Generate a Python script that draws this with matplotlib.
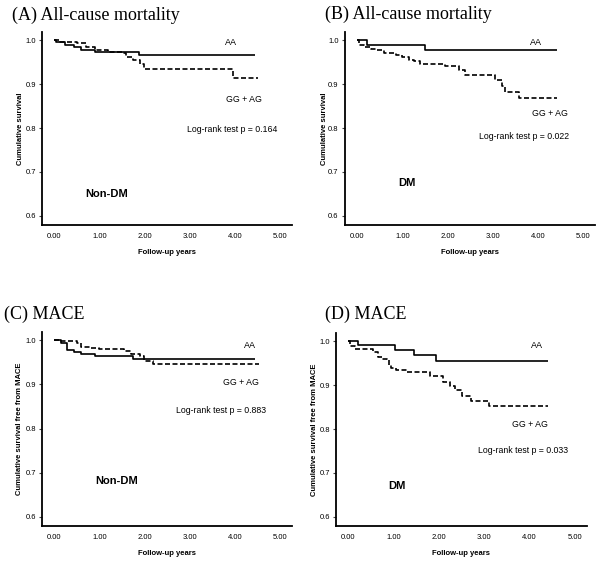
import matplotlib
matplotlib.use("Agg")
import matplotlib.pyplot as plt

# ---- data ----
# Panel A: All-cause mortality, Non-DM
a_aa_t = [0.0, 0.05, 0.25, 0.45, 0.6, 0.9, 1.88]
a_aa_s = [1.0, 0.996, 0.990, 0.985, 0.978, 0.973, 0.966]
a_aa_end = 4.45
a_gg_t = [0.0, 0.1, 0.5, 0.7, 0.9, 1.2, 1.5, 1.6, 1.75, 1.9, 2.0, 3.97]
a_gg_s = [1.0, 0.997, 0.993, 0.985, 0.978, 0.973, 0.970, 0.963, 0.955, 0.945, 0.935, 0.913]
a_gg_end = 4.52

# Panel B: All-cause mortality, DM
b_aa_t = [0.0, 0.22, 1.5]
b_aa_s = [1.0, 0.990, 0.979]
b_aa_end = 4.42
b_gg_t = [0.0, 0.05, 0.15, 0.3, 0.45, 0.6, 0.85, 1.0, 1.15, 1.25, 1.4, 1.95, 2.25, 2.4, 3.05, 3.2, 3.27, 3.58]
b_gg_s = [1.0, 0.990, 0.985, 0.981, 0.977, 0.970, 0.966, 0.962, 0.956, 0.952, 0.947, 0.941, 0.932, 0.922, 0.909, 0.896, 0.882, 0.868]
b_gg_end = 4.42

# Panel C: MACE, Non-DM
c_aa_t = [0.0, 0.15, 0.28, 0.45, 0.6, 0.9, 1.75]
c_aa_s = [1.0, 0.995, 0.978, 0.973, 0.969, 0.964, 0.957]
c_aa_end = 4.46
c_gg_t = [0.0, 0.1, 0.5, 0.6, 0.8, 1.0, 1.55, 1.7, 1.9, 2.0, 2.2]
c_gg_s = [1.0, 0.998, 0.993, 0.985, 0.982, 0.980, 0.975, 0.970, 0.965, 0.954, 0.946]
c_gg_end = 4.53

# Panel D: MACE, DM
d_aa_t = [0.0, 0.22, 1.03, 1.45, 1.93]
d_aa_s = [1.0, 0.991, 0.980, 0.969, 0.956]
d_aa_end = 4.42
d_gg_t = [0.0, 0.05, 0.15, 0.55, 0.65, 0.75, 0.85, 0.9, 0.95, 1.05, 1.3, 1.8, 2.1, 2.25, 2.35, 2.5, 2.7, 3.1]
d_gg_s = [1.0, 0.990, 0.983, 0.975, 0.965, 0.960, 0.957, 0.945, 0.939, 0.934, 0.930, 0.921, 0.908, 0.898, 0.888, 0.876, 0.865, 0.852]
d_gg_end = 4.42

x_ticks = [0, 1, 2, 3, 4, 5]
x_ticklabels = ["0.00", "1.00", "2.00", "3.00", "4.00", "5.00"]
y_ticks = [0.6, 0.7, 0.8, 0.9, 1.0]
y_ticklabels = ["0.6", "0.7", "0.8", "0.9", "1.0"]

titles = ["(A) All-cause mortality", "(B) All-cause mortality", "(C) MACE", "(D) MACE"]
ylabels = ["Cumulative survival", "Cumulative survival",
           "Cumulative survival free from MACE", "Cumulative survival free from MACE"]
xlabel = "Follow-up years"
groups = ["Non-DM", "DM", "Non-DM", "DM"]
pvals = ["Log-rank test p = 0.164", "Log-rank test p = 0.022",
         "Log-rank test p = 0.883", "Log-rank test p = 0.033"]

panels = [
    (a_aa_t, a_aa_s, a_aa_end, a_gg_t, a_gg_s, a_gg_end),
    (b_aa_t, b_aa_s, b_aa_end, b_gg_t, b_gg_s, b_gg_end),
    (c_aa_t, c_aa_s, c_aa_end, c_gg_t, c_gg_s, c_gg_end),
    (d_aa_t, d_aa_s, d_aa_end, d_gg_t, d_gg_s, d_gg_end),
]

# ---- layout ----
W, H = 600, 566
fig = plt.figure(figsize=(W / 100, H / 100), dpi=100)
fig.patch.set_facecolor("white")

# (left, right, top, bottom) in pixels
boxes = [(42, 292, 32, 225), (345, 595, 32, 225), (42, 292, 332, 526), (336, 587, 333, 526)]
title_pos = [(12, 20), (325, 19), (4, 319), (325, 319)]
# annotation positions (data coords): AA, GG+AG, logrank, group
ann = [
    ((3.91, 0.994), (4.2, 0.864), (3.95, 0.797), (1.17, 0.650)),
    ((3.97, 0.995), (4.28, 0.834), (3.70, 0.780), (1.10, 0.675)),
    ((4.33, 0.989), (4.13, 0.905), (3.69, 0.840), (1.38, 0.680)),
    ((4.17, 0.990), (4.00, 0.810), (3.86, 0.750), (1.07, 0.670)),
]
ylab_x = [21, 324, 20, 315]

sans = "Liberation Sans"
serif = "Liberation Serif"

for i, (l, r, t, b) in enumerate(boxes):
    ax = fig.add_axes([l / W, 1 - b / H, (r - l) / W, (b - t) / H])
    aa_t, aa_s, aa_end, gg_t, gg_s, gg_end = panels[i]
    ax.step(list(aa_t) + [aa_end], list(aa_s) + [aa_s[-1]], where="post",
            color="black", lw=1.2, solid_capstyle="butt")
    ax.step(list(gg_t) + [gg_end], list(gg_s) + [gg_s[-1]], where="post",
            color="black", lw=1.2, linestyle=(0, (3, 1.5)))
    ax.set_xlim(-0.27, 5.27)
    ax.set_ylim(0.579, 1.019)
    ax.set_xticks(x_ticks)
    ax.set_xticklabels(x_ticklabels, fontsize=5.5, family=sans)
    ax.set_yticks(y_ticks)
    ax.set_yticklabels(y_ticklabels, fontsize=5.5, family=sans)
    ax.tick_params(axis="both", length=2.5, width=0.8, pad=2, color="#444444")
    ax.tick_params(axis="x", length=0, pad=6)
    for s in ["top", "right"]:
        ax.spines[s].set_visible(False)
    for s in ["left", "bottom"]:
        ax.spines[s].set_linewidth(1.3)
        ax.spines[s].set_color("black")
    ax.set_xlabel(xlabel, fontsize=5.5, fontweight="bold", family=sans, labelpad=6)
    (aax, aay), (gx, gy), (px, py), (dx, dy) = ann[i]
    ax.text(aax, aay, "AA", fontsize=6.5, family=sans, ha="center", va="center")
    ax.text(gx, gy, "GG + AG", fontsize=6.3, family=sans, ha="center", va="center")
    ax.text(px, py, pvals[i], fontsize=6.3, family=sans, ha="center", va="center")
    ax.text(dx, dy, groups[i], fontsize=8, family=sans, fontweight="bold",
            ha="center", va="center")
    fig.text(ylab_x[i] / W, 1 - ((t + b) / 2) / H, ylabels[i], rotation=90,
             fontsize=5.5, fontweight="bold", family=sans, ha="center", va="center")
    tx, ty = title_pos[i]
    fig.text(tx / W, 1 - ty / H, titles[i], fontsize=13, family=serif,
             ha="left", va="baseline")

fig.savefig("out.png", dpi=100, facecolor="white")
